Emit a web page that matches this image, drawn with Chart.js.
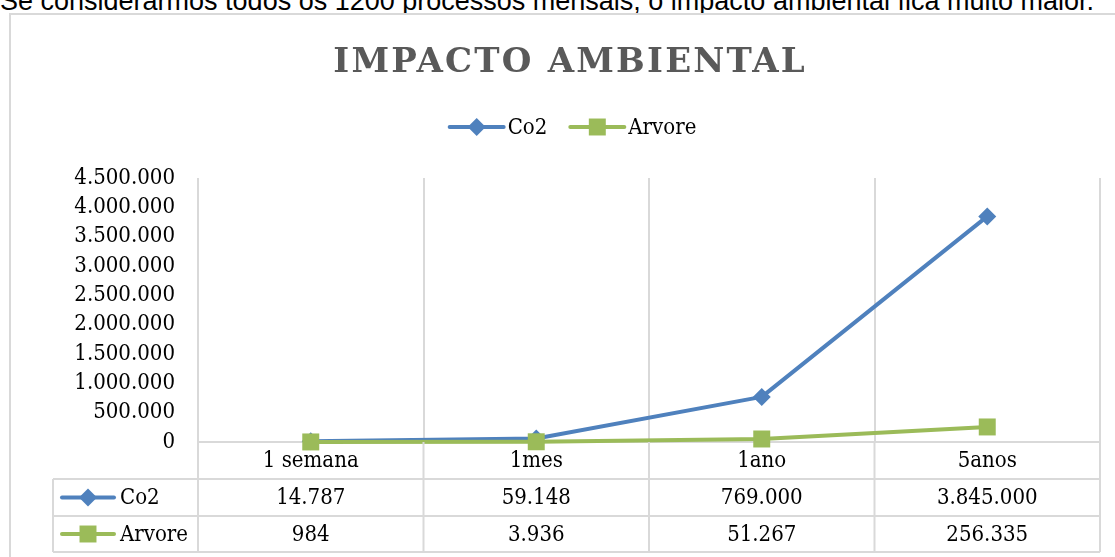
<!DOCTYPE html>
<html>
<head>
<meta charset="utf-8">
<script src="https://cdn.jsdelivr.net/npm/chart.js@4.4.1/dist/chart.umd.min.js"></script>
<style>
  html, body { margin: 0; padding: 0; width: 1115px; height: 557px; overflow: hidden; background: #fff; }
  #lead { position: absolute; left: 0; top: -14px; font: 27px "Liberation Sans", Arial, sans-serif; white-space: nowrap; color: #000; line-height: normal; }
  #frame { position: absolute; left: 9px; top: 13px; width: 1140px; height: 620px; border: 2px solid #d9d9d9; box-sizing: border-box; background: #fff; }
  #wrap { position: absolute; left: 0; top: 0; width: 1115px; height: 557px; }
  #title { position: absolute; left: 0; top: 43px; width: 1138px; padding-left: 2.2px; box-sizing: border-box; text-align: center;
           font: bold 34px "DejaVu Serif", serif; line-height: 34px; letter-spacing: 2.2px; color: #595959; }
</style>
</head>
<body>
<div id="lead">Se considerarmos todos os 1200 processos mensais, o impacto ambiental fica muito maior.</div>
<div id="frame"></div>
<div id="wrap"><canvas id="chart" width="1115" height="557"></canvas></div>
<div id="title">IMPACTO AMBIENTAL</div>
<script>
// Periods and the two measured series
const categories = ['1 semana', '1mes', '1ano', '5anos'];
const co2Values = [14787, 59148, 769000, 3845000];
const arvoreValues = [984, 3936, 51267, 256335];
const seriesNames = ['Co2', 'Arvore'];
const seriesColors = ['#4f81bd', '#9bbb59'];
const yMax = 4500000;
const yStep = 500000;

const serifFamily = '"DejaVu Serif Condensed", "DejaVu Serif", serif';
const gridColor = '#d9d9d9';

// Thousands separated by dots: 3845000 -> 3.845.000
function fmt(v) {
  return String(Math.round(v)).replace(/\B(?=(\d{3})+(?!\d))/g, '.');
}

const markerStyles = [
  { pointStyle: 'rectRot', radius: 9 },
  { pointStyle: 'rect', radius: 12 }
];

// Line-with-marker key used in the legend and in the data table
function drawKey(ctx, cx, cy, idx, halfLen) {
  ctx.save();
  ctx.strokeStyle = seriesColors[idx];
  ctx.fillStyle = seriesColors[idx];
  ctx.lineWidth = 4;
  ctx.lineCap = 'round';
  ctx.beginPath();
  ctx.moveTo(cx - halfLen, cy);
  ctx.lineTo(cx + halfLen, cy);
  ctx.stroke();
  Chart.helpers.drawPoint(ctx, {
    pointStyle: markerStyles[idx].pointStyle,
    radius: markerStyles[idx].radius,
    rotation: 0,
    borderWidth: 0
  }, cx, cy);
  ctx.restore();
}

const legendAndTable = {
  id: 'legendAndTable',
  afterDraw(chart) {
    const ctx = chart.ctx;
    const area = chart.chartArea;
    const xs = chart.scales.x;
    const font = '22px ' + serifFamily;

    // ---- legend (centered over the frame) ----
    ctx.save();
    ctx.font = font;
    ctx.fillStyle = '#000';
    ctx.textBaseline = 'middle';
    ctx.textAlign = 'left';
    const keyW = 54, keyGap = 4, itemGap = 23;
    const widths = seriesNames.map(n => keyW + keyGap + ctx.measureText(n).width);
    const total = widths.reduce((a, b) => a + b, 0) + itemGap * (widths.length - 1);
    let lx = 573 - total / 2;
    const ly = 127;
    seriesNames.forEach((name, i) => {
      drawKey(ctx, lx + keyW / 2, ly, i, keyW / 2);
      ctx.fillStyle = '#000';
      ctx.fillText(name, lx + keyW + keyGap, ly + 1);
      lx += widths[i] + itemGap;
    });
    ctx.restore();

    // ---- data table under the plot ----
    const n = categories.length;
    const centers = categories.map((_, i) => xs.getPixelForValue(i));
    const bounds = [area.left];
    for (let i = 0; i < n - 1; i++) bounds.push((centers[i] + centers[i + 1]) / 2);
    bounds.push(area.right);

    const rowTop = [area.bottom, area.bottom + 37, area.bottom + 74, area.bottom + 110];
    const tableLeft = 53;

    ctx.save();
    ctx.strokeStyle = gridColor;
    ctx.lineWidth = 2;
    ctx.beginPath();
    // column separators
    bounds.forEach(bx => { ctx.moveTo(bx, rowTop[0]); ctx.lineTo(bx, rowTop[3]); });
    ctx.moveTo(tableLeft, rowTop[1]); ctx.lineTo(tableLeft, rowTop[3]);
    // row separators
    [rowTop[1], rowTop[2], rowTop[3]].forEach(y => { ctx.moveTo(tableLeft, y); ctx.lineTo(area.right, y); });
    ctx.stroke();

    ctx.font = font;
    ctx.fillStyle = '#000';
    ctx.textBaseline = 'middle';
    ctx.textAlign = 'center';
    const mid = r => (rowTop[r] + rowTop[r + 1]) / 2 + 1;
    categories.forEach((c, i) => ctx.fillText(c, centers[i], mid(0)));
    chart.data.datasets.forEach((ds, r) => {
      ds.data.forEach((v, i) => {
        ctx.fillStyle = '#000';
        ctx.fillText(fmt(v), centers[i], mid(r + 1));
      });
      drawKey(ctx, 88, mid(r + 1) - 1, r, 26);
      ctx.fillStyle = '#000';
      ctx.textAlign = 'left';
      ctx.fillText(ds.label, 120, mid(r + 1));
      ctx.textAlign = 'center';
    });
    ctx.restore();
  }
};

new Chart(document.getElementById('chart'), {
  type: 'line',
  data: {
    labels: categories,
    datasets: [
      {
        label: seriesNames[0], data: co2Values, order: 1,
        borderColor: seriesColors[0], backgroundColor: seriesColors[0],
        pointBackgroundColor: seriesColors[0], pointBorderWidth: 0,
        pointStyle: markerStyles[0].pointStyle, pointRadius: markerStyles[0].radius,
        borderWidth: 4, borderCapStyle: 'round', borderJoinStyle: 'round',
        tension: 0, clip: false
      },
      {
        label: seriesNames[1], data: arvoreValues, order: 0,
        borderColor: seriesColors[1], backgroundColor: seriesColors[1],
        pointBackgroundColor: seriesColors[1], pointBorderWidth: 0,
        pointStyle: markerStyles[1].pointStyle, pointRadius: markerStyles[1].radius,
        borderWidth: 4, borderCapStyle: 'round', borderJoinStyle: 'round',
        tension: 0, clip: false
      }
    ]
  },
  options: {
    responsive: false,
    animation: false,
    layout: { padding: { top: 178, left: 0, right: 15, bottom: 115 } },
    plugins: { legend: { display: false }, title: { display: false }, tooltip: { enabled: false } },
    scales: {
      x: {
        offset: true,
        grid: { offset: true, color: gridColor, lineWidth: 2, drawTicks: false },
        border: { display: true, color: gridColor, width: 2 },
        ticks: { display: false },
        afterFit(s) { s.height = 0; }
      },
      y: {
        min: 0, max: yMax,
        grid: { display: false, drawTicks: false },
        border: { display: false },
        ticks: {
          stepSize: yStep, padding: 23, color: '#000', autoSkip: false,
          font: { family: serifFamily, size: 22 },
          callback: v => fmt(v)
        },
        afterFit(s) { s.width = 198; }
      }
    }
  },
  plugins: [legendAndTable]
});
</script>
</body>
</html>
